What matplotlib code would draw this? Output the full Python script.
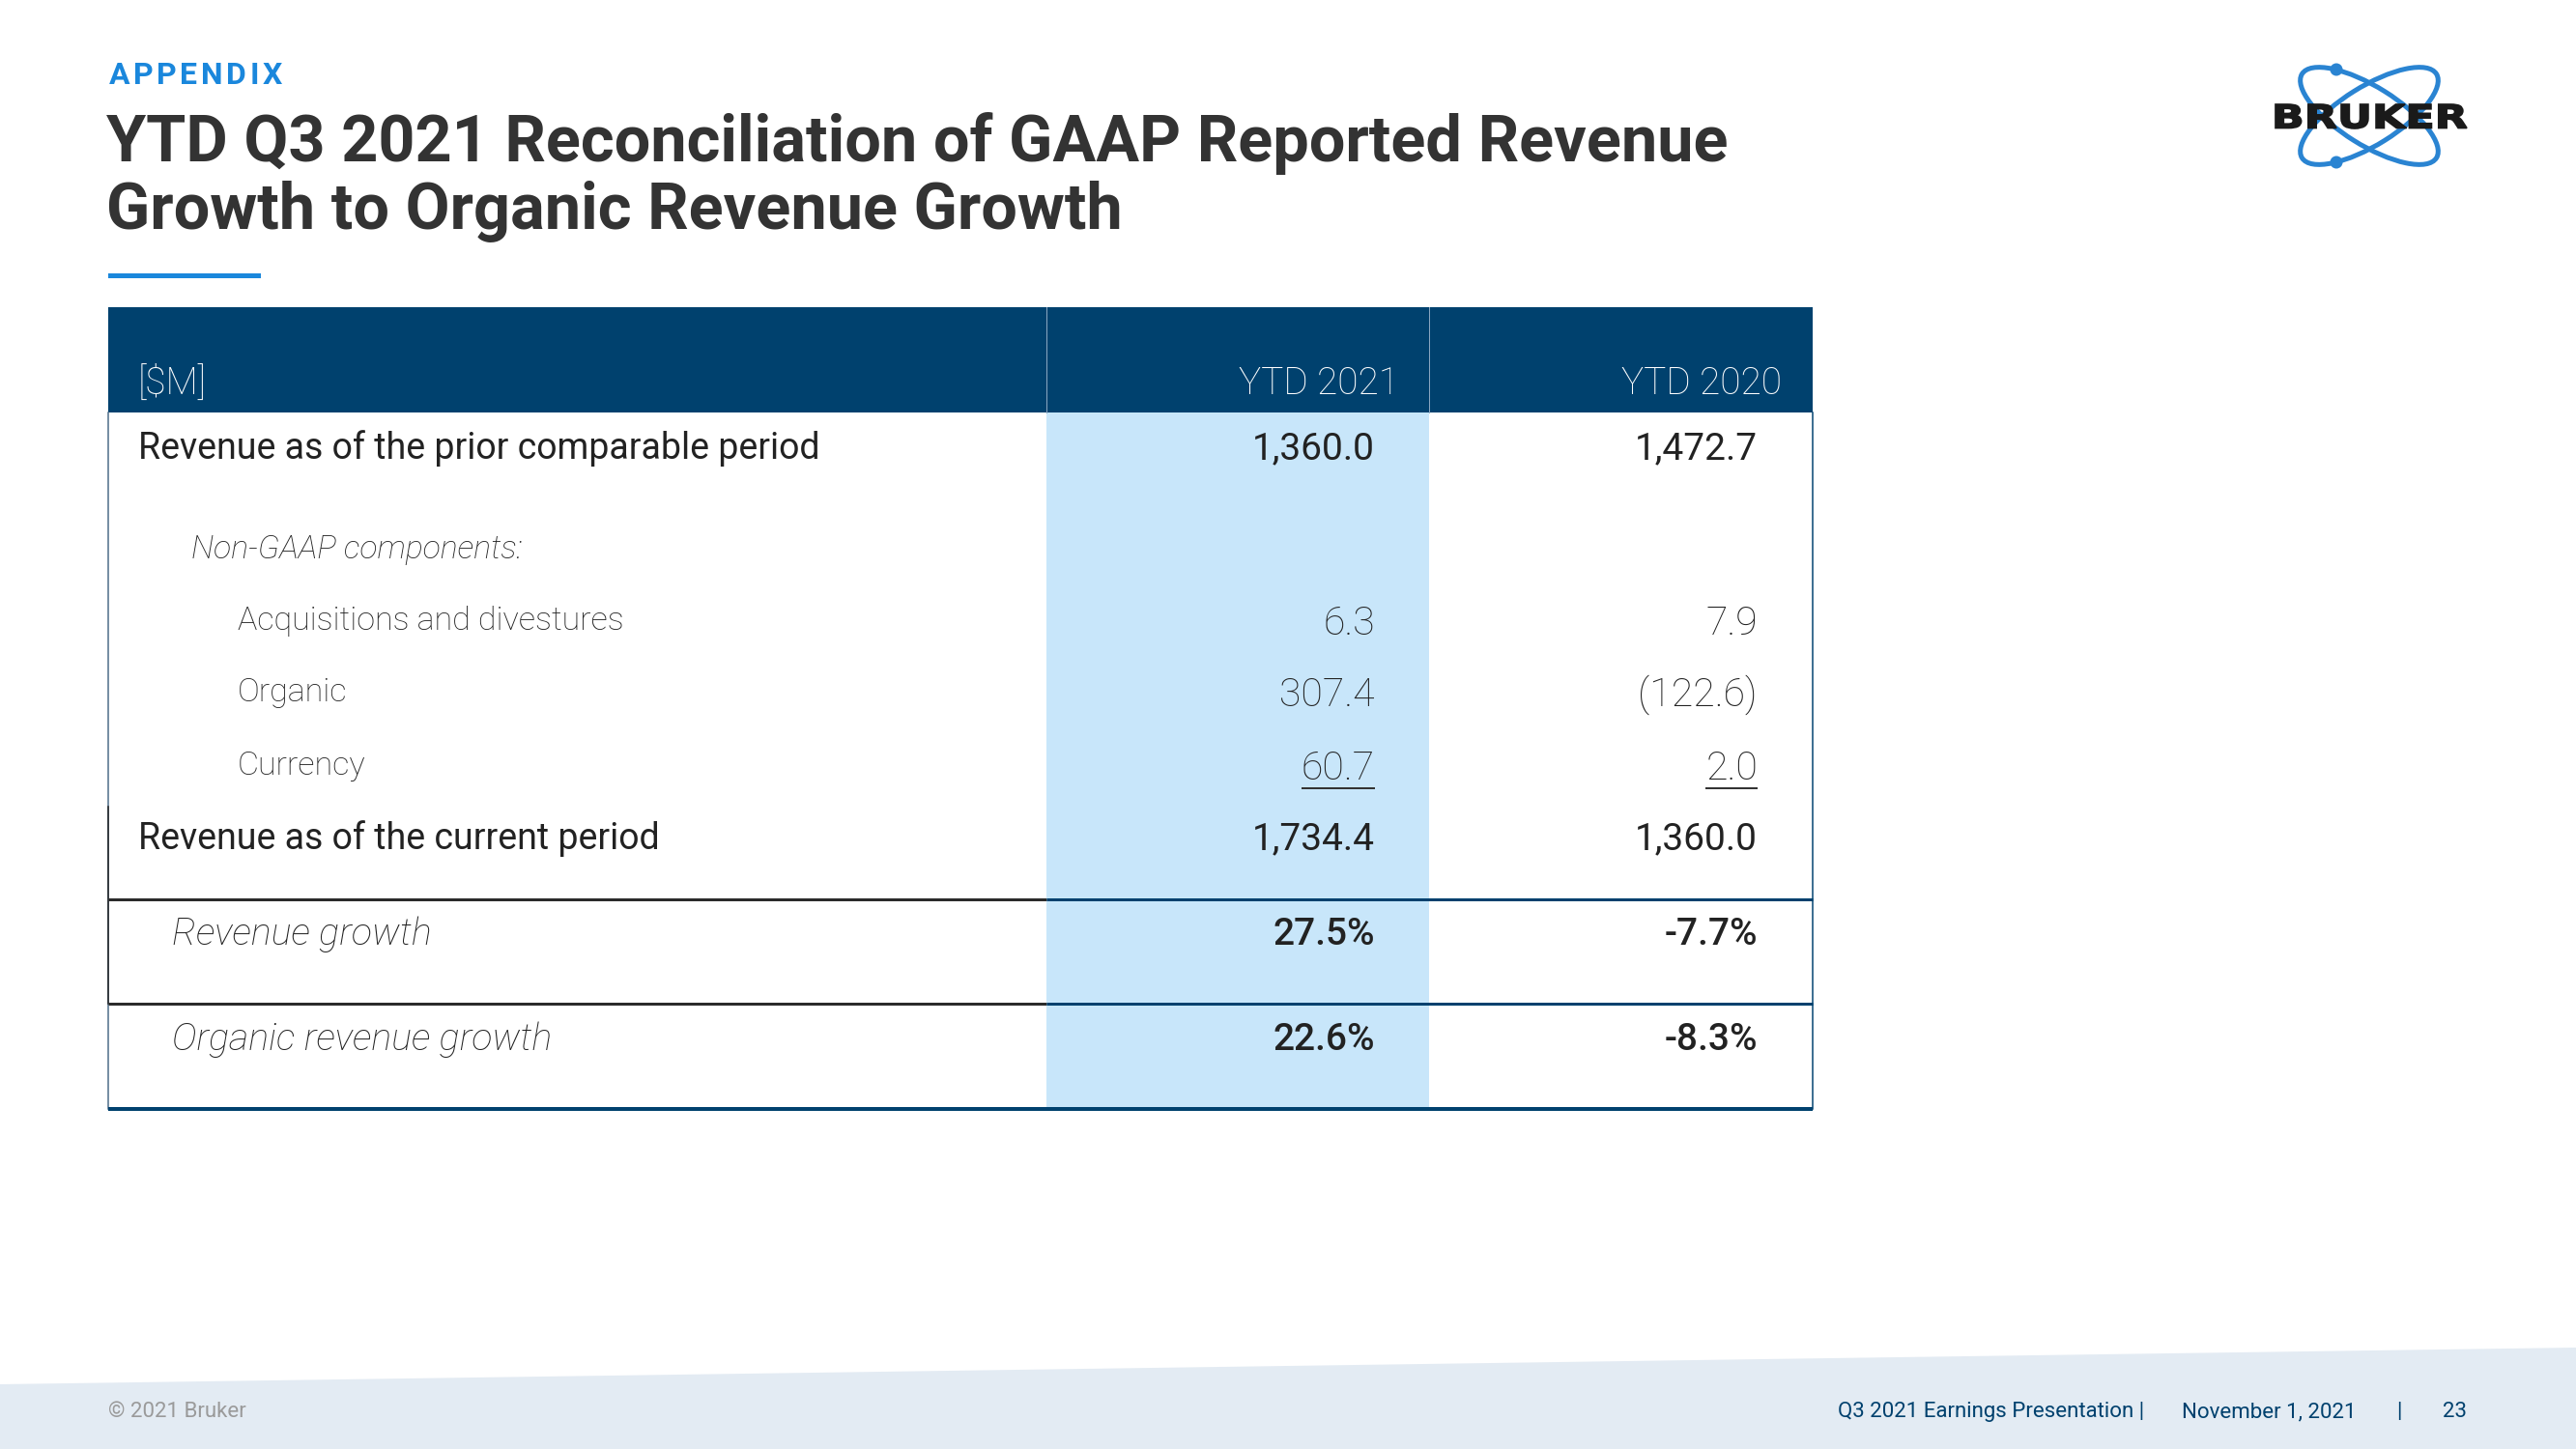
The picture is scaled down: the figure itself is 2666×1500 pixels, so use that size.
"""
Bruker appendix slide: YTD Q3 2021 GAAP -> organic revenue growth table
"""
import matplotlib
matplotlib.use("Agg")
import matplotlib.pyplot as plt
from matplotlib.patches import Rectangle, Ellipse, Circle, Polygon, PathPatch
from matplotlib.textpath import TextPath
from matplotlib.font_manager import FontProperties
from matplotlib.transforms import Affine2D

plt.rcParams['font.family'] = ['Roboto', 'DejaVu Sans']

# ---- data ----
columns = ["[$M]", "YTD 2021", "YTD 2020"]
row_labels = ["Revenue as of the prior comparable period",
              "Non-GAAP components:",
              "Acquisitions and divestures",
              "Organic",
              "Currency",
              "Revenue as of the current period",
              "Revenue growth",
              "Organic revenue growth"]
ytd_2021 = ["1,360.0", "", "6.3", "307.4", "60.7", "1,734.4", "27.5%", "22.6%"]
ytd_2020 = ["1,472.7", "", "7.9", "(122.6)", "2.0", "1,360.0", "-7.7%", "-8.3%"]
underlined = [False, False, False, False, True, False, False, False]

# ---- layout / styles (pixels) ----
W, H = 2666, 1500
navy = "#00416e"
light_blue = "#c8e6fa"
txt = "#333333"
px = 0.72  # px -> pt at dpi 100

tab_l, tab_r, tab_t, head_b, tab_b = 112, 1876, 318, 427, 1148
col_x = [1083, 1479]
val_right = [1423, 1819]
baselines = [475, 578, 652, 726, 802, 879, 978, 1087]
val_shift = [0, 0, 5, 5, 5, 0, 0, 0]
label_x = [143, 198, 246, 246, 246, 143, 178, 178]
# (label size, label weight, label style, value size, value weight)
row_style = [(27.0, "normal", "normal", 28, "normal"),
             (24.3, "light", "italic", 29.5, "light"),
             (24.5, "light", "normal", 29.5, "light"),
             (24.5, "light", "normal", 29.5, "light"),
             (24.5, "light", "normal", 29.5, "light"),
             (27.0, "normal", "normal", 28, "normal"),
             (28.4, "light", "italic", 28, "medium"),
             (28.4, "light", "italic", 28, "medium")]
hlines = [931, 1039]

fig = plt.figure(figsize=(W / 100, H / 100), dpi=100)
ax = fig.add_axes([0, 0, 1, 1])
ax.set_xlim(0, W)
ax.set_ylim(H, 0)
ax.axis("off")
r = fig.canvas.get_renderer()

# header text, APPENDIX with letter spacing
x = 113
for ch in "APPENDIX":
    t = ax.text(x, 87, ch, fontsize=23, fontweight="bold", color="#1a87dc", va="baseline")
    bb = t.get_window_extent(renderer=r)
    x += bb.width + 3.5
ax.text(110, 167, "YTD Q3 2021 Reconciliation of GAAP Reported Revenue",
        fontsize=48, fontweight="bold", color=txt, va="baseline")
ax.text(110, 237, "Growth to Organic Revenue Growth",
        fontsize=48, fontweight="bold", color=txt, va="baseline")
ax.add_patch(Rectangle((112, 283), 158, 5, color="#1a87dc", lw=0))

# table backgrounds
ax.add_patch(Rectangle((tab_l, tab_t), tab_r - tab_l, head_b - tab_t, color=navy, lw=0))
ax.add_patch(Rectangle((col_x[0], head_b), col_x[1] - col_x[0], tab_b - head_b,
                       color=light_blue, lw=0))
for cx in col_x:
    ax.plot([cx, cx], [tab_t, head_b], color="#8aa6c0", lw=1 * px)

# header labels
ax.text(label_x[0], 408, columns[0], fontsize=28, fontweight="light", color="white", va="baseline")
for i, name in enumerate(columns[1:]):
    ax.text(val_right[i] + 25, 408, name, fontsize=28, fontweight="light",
            color="white", va="baseline", ha="right")

# borders
ax.plot([tab_l, tab_l], [head_b, tab_b], color="#4a6a86", lw=1.5 * px)
ax.plot([tab_l, tab_l], [835, 1039], color="#222222", lw=1.5 * px)
ax.plot([tab_r, tab_r], [head_b, tab_b], color=navy, lw=1.5 * px)
for y in hlines:
    ax.plot([tab_l, col_x[0]], [y, y], color="#2b2b2b", lw=3 * px, solid_capstyle="butt")
    ax.plot([col_x[0], tab_r], [y, y], color=navy, lw=3 * px, solid_capstyle="butt")
ax.plot([tab_l, tab_r], [tab_b, tab_b], color=navy, lw=4 * px, solid_capstyle="butt")

# rows
for i, lab in enumerate(row_labels):
    ls, lw_, lst, vs, vw = row_style[i]
    ax.text(label_x[i], baselines[i], lab, fontsize=ls, fontweight=lw_, fontstyle=lst,
            color="#222222", va="baseline")
    for j, vals in enumerate([ytd_2021, ytd_2020]):
        if not vals[i]:
            continue
        yb = baselines[i] + val_shift[i]
        t = ax.text(val_right[j], yb, vals[i], fontsize=vs, fontweight=vw,
                    color="#222222", va="baseline", ha="right")
        if underlined[i]:
            bb = t.get_window_extent(renderer=r)
            ax.plot([bb.x0, bb.x1], [yb + 9] * 2, color=txt, lw=2 * px,
                    solid_capstyle="butt")

# footer band
ax.add_patch(Polygon([(0, 1433), (W, 1395), (W, H), (0, H)], closed=True,
                     color="#e3ebf3", lw=0))
ax.text(112, 1467, "\u00a9 2021 Bruker", fontsize=16, color="#9a9a9a", va="baseline")
ax.text(2219, 1467, "Q3 2021 Earnings Presentation |", fontsize=16, color=navy,
        va="baseline", ha="right")
ax.text(2258, 1467, "November 1, 2021", fontsize=16, color=navy, va="baseline")
ax.text(2483, 1467, "|", fontsize=16, color=navy, va="baseline", ha="center")
ax.text(2553, 1467, "23", fontsize=16, color=navy, va="baseline", ha="right")

# logo
logo_blue = "#2a84d2"
cx0, cy0 = 2452, 120
for ang in (32, -32):
    ax.add_patch(Ellipse((cx0, cy0), 164, 60, angle=ang, fill=False,
                         ec=logo_blue, lw=5 * px))
for dy in (-48, 48):
    ax.add_patch(Circle((2418, cy0 + dy), 6.5, color=logo_blue, lw=0))
tp = TextPath((0, 0), "BRUKER", size=34, prop=FontProperties(family="DejaVu Sans", weight="heavy"))
ext = tp.get_extents()
sx = 198 / ext.width
sy = 25 / ext.height
tr = Affine2D().translate(-ext.x0, -ext.y0).scale(sx, -sy).translate(2355, 133)
ax.add_patch(PathPatch(tr.transform_path(tp), fc="#1a1a1a", ec="#1a1a1a", lw=1.2))

fig.savefig("out.png", dpi=100)
